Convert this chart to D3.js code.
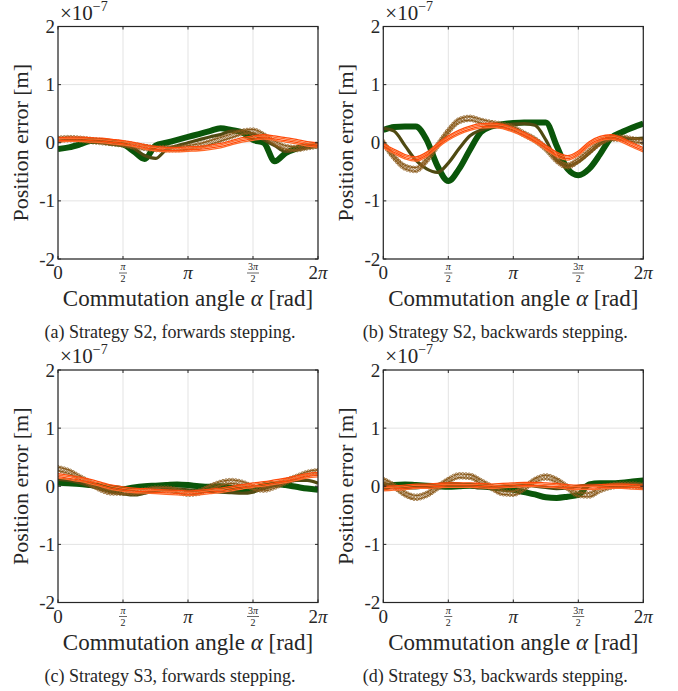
<!DOCTYPE html>
<html>
<head>
<meta charset="utf-8">
<script src="https://cdn.jsdelivr.net/npm/d3@7"></script>
<style>
  body { margin: 0; background: #fff; }
  text { font-family: "Liberation Serif", "Times New Roman", serif; fill: #262626; }
</style>
</head>
<body>
<div id="chart"></div>
<script>
// Sample positions: commutation angle in steps of pi/12
const alpha = d3.range(25).map(k => k * Math.PI / 12);

const yTicks = [-2, -1, 0, 1, 2];
const xTicks = [0, Math.PI / 2, Math.PI, 3 * Math.PI / 2, 2 * Math.PI];
const xTickLabels = ["0", "π/2", "π", "3π/2", "2π"];

const captions = [
  "(a) Strategy S2, forwards stepping.",
  "(b) Strategy S2, backwards stepping.",
  "(c) Strategy S3, forwards stepping.",
  "(d) Strategy S3, backwards stepping."
];

// Position error in units of 1e-7 m, one array per run group
const a_dark   = [-0.11, -0.08, -0.03, 0.03, 0.03, 0.0, -0.03, -0.15, -0.28, -0.05, 0.0, 0.05, 0.1, 0.15, 0.2, 0.25, 0.22, 0.18, 0.05, 0.0, -0.32, -0.18, -0.1, -0.06, -0.04];
const a_olive  = [0.03, 0.05, 0.05, 0.03, 0.0, -0.02, -0.04, -0.1, -0.22, -0.27, -0.12, -0.05, 0.0, 0.05, 0.1, 0.14, 0.2, 0.2, 0.15, 0.05, -0.05, -0.15, -0.12, -0.08, -0.05];
const a_brown  = [0.06, 0.07, 0.06, 0.04, 0.02, 0.0, -0.02, -0.05, -0.08, -0.1, -0.1, -0.1, -0.08, -0.05, 0.0, 0.06, 0.12, 0.18, 0.2, 0.12, 0.0, -0.08, -0.1, -0.07, -0.04];
const a_orange = [0.05, 0.06, 0.06, 0.05, 0.04, 0.02, 0.0, -0.03, -0.07, -0.1, -0.12, -0.12, -0.11, -0.1, -0.08, -0.05, 0.0, 0.05, 0.08, 0.1, 0.08, 0.05, 0.02, -0.02, -0.04];

const b_dark   = [0.22, 0.27, 0.28, 0.28, 0.05, -0.4, -0.66, -0.45, -0.12, 0.18, 0.28, 0.32, 0.34, 0.35, 0.35, 0.35, -0.05, -0.45, -0.56, -0.45, -0.2, 0.08, 0.18, 0.26, 0.33];
const b_olive  = [0.25, 0.2, -0.05, -0.3, -0.45, -0.51, -0.35, -0.1, 0.12, 0.22, 0.27, 0.3, 0.32, 0.33, 0.3, 0.05, -0.3, -0.4, -0.33, -0.18, -0.02, 0.06, 0.07, 0.07, 0.08];
const b_brown  = [0.0, -0.25, -0.42, -0.46, -0.3, -0.05, 0.2, 0.38, 0.42, 0.37, 0.33, 0.3, 0.25, 0.15, 0.05, -0.1, -0.3, -0.4, -0.3, -0.15, 0.0, 0.08, 0.08, 0.05, 0.02];
const b_orange = [-0.05, -0.15, -0.24, -0.28, -0.2, -0.05, 0.08, 0.18, 0.25, 0.29, 0.3, 0.28, 0.22, 0.14, 0.04, -0.08, -0.2, -0.26, -0.18, -0.02, 0.07, 0.1, 0.05, -0.04, -0.12];

const c_dark   = [0.06, 0.05, 0.04, 0.02, 0.0, -0.03, -0.05, -0.02, 0.0, 0.01, 0.02, 0.03, 0.02, 0.0, -0.01, 0.0, -0.03, -0.06, -0.06, 0.02, 0.04, 0.02, -0.01, -0.04, -0.06];
const c_olive  = [0.12, 0.1, 0.06, 0.0, -0.05, -0.1, -0.13, -0.15, -0.12, -0.08, -0.05, -0.05, -0.06, -0.08, -0.09, -0.1, -0.11, -0.12, -0.1, -0.04, 0.02, 0.06, 0.1, 0.1, 0.05];
const c_brown  = [0.3, 0.25, 0.15, 0.05, -0.05, -0.1, -0.1, -0.1, -0.08, -0.05, -0.05, -0.08, -0.12, -0.1, -0.02, 0.05, 0.08, 0.05, -0.02, -0.05, 0.0, 0.08, 0.15, 0.22, 0.25];
const c_orange = [0.18, 0.15, 0.12, 0.08, 0.03, -0.02, -0.05, -0.07, -0.08, -0.09, -0.1, -0.11, -0.12, -0.11, -0.09, -0.07, -0.04, -0.01, 0.02, 0.04, 0.07, 0.1, 0.14, 0.18, 0.2];

const d_dark   = [-0.03, 0.02, 0.03, 0.02, 0.01, 0.0, -0.01, 0.0, 0.01, 0.0, -0.02, -0.04, -0.06, -0.1, -0.14, -0.19, -0.2, -0.18, -0.15, 0.03, 0.05, 0.05, 0.06, 0.08, 0.1];
const d_olive  = [0.05, 0.0, -0.03, -0.03, 0.0, 0.03, 0.05, 0.04, 0.0, -0.03, -0.03, 0.0, 0.02, 0.02, 0.0, -0.02, -0.04, -0.03, 0.0, 0.02, 0.02, 0.0, -0.02, 0.0, 0.02];
const d_brown  = [0.1, 0.0, -0.13, -0.19, -0.14, -0.02, 0.1, 0.18, 0.17, 0.08, -0.02, -0.11, -0.12, -0.03, 0.1, 0.16, 0.1, -0.02, -0.14, -0.15, -0.06, 0.0, 0.02, 0.02, 0.0];
const d_orange = [-0.04, -0.03, -0.02, 0.0, 0.0, 0.01, 0.02, 0.02, 0.02, 0.01, 0.0, 0.01, 0.02, 0.03, 0.03, 0.02, 0.01, -0.01, -0.02, -0.02, -0.01, 0.0, 0.0, -0.01, -0.02];

const panelSeries = [
  [a_dark, a_olive, a_brown, a_orange],
  [b_dark, b_olive, b_brown, b_orange],
  [c_dark, c_olive, c_brown, c_orange],
  [d_dark, d_olive, d_brown, d_orange]
];

// Layout
const totalW = 678, totalH = 691;
const plotW = 260, plotH = 232.5;
const origins = [[58, 26.5], [383.3, 26.5], [58, 370], [383.3, 370]];

// Stroke styles per group
const styles = [
  { color: "#0a560a", width: 6, strands: [0] },
  { color: "#4f4a12", width: 3.2, strands: [0] },
  { color: "#8a5a1c", width: 1.2, strands: [-1.8, 1.8], markers: true },
  { color: "#ff4a0a", width: 1.3, strands: [-2.2, -0.8, 0.8, 2.2], alt: "#ff6a2a" }
];

const svg = d3.select("#chart")
  .append("svg")
  .attr("width", totalW)
  .attr("height", totalH);

const x = d3.scaleLinear().domain([0, 2 * Math.PI]).range([0, plotW]);
const y = d3.scaleLinear().domain([-2, 2]).range([plotH, 0]);

const line = d3.line()
  .x((d, i) => x(alpha[i]))
  .y(d => y(d))
  .curve(d3.curveMonotoneX);

panelSeries.forEach((series, p) => {
  const g = svg.append("g")
    .attr("transform", "translate(" + origins[p][0] + "," + origins[p][1] + ")");

  g.append("clipPath").attr("id", "clip" + p)
    .append("rect").attr("width", plotW).attr("height", plotH);

  // grid
  g.selectAll(".gx").data(xTicks).enter().append("line")
    .attr("x1", d => x(d)).attr("x2", d => x(d))
    .attr("y1", 0).attr("y2", plotH)
    .attr("stroke", "#e3e3e3").attr("stroke-width", 1);
  g.selectAll(".gy").data(yTicks).enter().append("line")
    .attr("y1", d => y(d)).attr("y2", d => y(d))
    .attr("x1", 0).attr("x2", plotW)
    .attr("stroke", "#e3e3e3").attr("stroke-width", 1);

  // data lines
  const lines = g.append("g").attr("clip-path", "url(#clip" + p + ")");
  series.forEach((vals, s) => {
    const st = styles[s];
    st.strands.forEach((off, k) => {
      const path = lines.append("path")
        .attr("d", line(vals))
        .attr("transform", "translate(0," + off + ")")
        .attr("fill", "none")
        .attr("stroke", st.alt && k % 2 ? st.alt : st.color)
        .attr("stroke-width", st.width)
        .attr("stroke-linejoin", "round");
      if (st.markers) {
        const node = path.node();
        const len = node.getTotalLength();
        for (let l = 0; l < len; l += 3.2) {
          const pt = node.getPointAtLength(l);
          lines.append("circle")
            .attr("cx", pt.x).attr("cy", pt.y + off)
            .attr("r", 1.5)
            .attr("fill", "none")
            .attr("stroke", st.color)
            .attr("stroke-width", 0.8);
        }
      }
    });
  });

  // frame
  g.append("rect")
    .attr("width", plotW).attr("height", plotH)
    .attr("fill", "none").attr("stroke", "#262626").attr("stroke-width", 1.2);

  // inward ticks on all sides
  xTicks.forEach(t => {
    g.append("line").attr("x1", x(t)).attr("x2", x(t)).attr("y1", plotH).attr("y2", plotH - 3).attr("stroke", "#262626");
    g.append("line").attr("x1", x(t)).attr("x2", x(t)).attr("y1", 0).attr("y2", 3).attr("stroke", "#262626");
  });
  yTicks.forEach(t => {
    g.append("line").attr("y1", y(t)).attr("y2", y(t)).attr("x1", 0).attr("x2", 3).attr("stroke", "#262626");
    g.append("line").attr("y1", y(t)).attr("y2", y(t)).attr("x1", plotW).attr("x2", plotW - 3).attr("stroke", "#262626");
  });

  // y tick labels
  g.selectAll(".yl").data(yTicks).enter().append("text")
    .attr("x", -3).attr("y", d => y(d) + 6.5)
    .attr("text-anchor", "end")
    .style("font-size", "19px")
    .text(d => String(d));

  // x tick labels
  xTickLabels.forEach((lab, i) => {
    const cx = x(xTicks[i]);
    if (lab.includes("/")) {
      const [num, den] = lab.split("/");
      const t1 = g.append("text").attr("x", cx).attr("y", plotH + 11)
        .attr("text-anchor", "middle").style("font-size", "10px");
      if (num.length > 1) t1.append("tspan").text(num[0]);
      t1.append("tspan").style("font-style", "italic").text("π");
      g.append("line").attr("x1", cx - (num.length > 1 ? 6 : 4)).attr("x2", cx + (num.length > 1 ? 6 : 4))
        .attr("y1", plotH + 14).attr("y2", plotH + 14)
        .attr("stroke", "#262626").attr("stroke-width", 0.7);
      g.append("text").attr("x", cx).attr("y", plotH + 23)
        .attr("text-anchor", "middle").style("font-size", "10px").text(den);
    } else {
      const t = g.append("text").attr("x", cx).attr("y", plotH + 20)
        .attr("text-anchor", "middle").style("font-size", "19px");
      if (lab.includes("π")) {
        if (lab.length > 1) t.append("tspan").text(lab[0]);
        t.append("tspan").style("font-style", "italic").text("π");
      } else {
        t.text(lab);
      }
    }
  });

  // exponent label
  const ex = g.append("text").attr("x", 2).attr("y", -7).style("font-size", "21px");
  ex.append("tspan").text("×10");
  ex.append("tspan").attr("dy", -9).style("font-size", "14px").text("−7");

  // axis titles
  const xl = g.append("text").attr("x", plotW / 2).attr("y", plotH + 47)
    .attr("text-anchor", "middle").style("font-size", "23px");
  xl.append("tspan").text("Commutation angle ");
  xl.append("tspan").style("font-style", "italic").text("α");
  xl.append("tspan").text(" [rad]");

  g.append("text")
    .attr("transform", "rotate(-90)")
    .attr("x", -plotH / 2).attr("y", -30)
    .attr("text-anchor", "middle").style("font-size", "22px")
    .text("Position error [m]");

  // caption
  g.append("text").attr("x", plotW / 2 - 18).attr("y", plotH + 79)
    .attr("text-anchor", "middle").style("font-size", "18px")
    .text(captions[p]);
});
</script>
</body>
</html>
